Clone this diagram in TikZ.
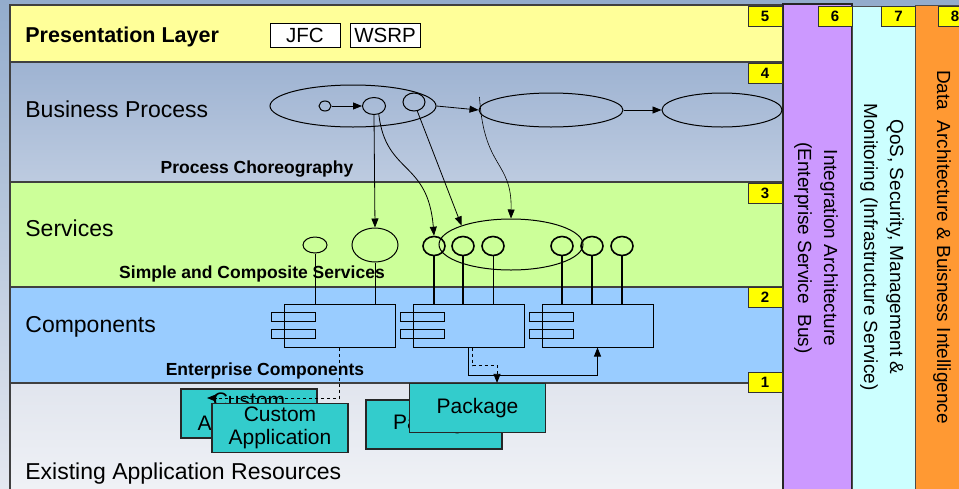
\documentclass[tikz,border=0pt]{standalone}
\usepackage{fontspec}
\setmainfont{Liberation Sans}
\usepackage{xcolor}
\usetikzlibrary{shapes.geometric,arrows.meta,positioning}

\definecolor{bgtop}{HTML}{93ACCC}
\definecolor{bgbot}{HTML}{E4E8F0}
\definecolor{presyel}{HTML}{FFFF99}
\definecolor{bptop}{HTML}{9EB3D2}
\definecolor{bpbot}{HTML}{BDCBE0}
\definecolor{svcgreen}{HTML}{CCFF99}
\definecolor{compblue}{HTML}{99CCFF}
\definecolor{restop}{HTML}{E1E5EE}
\definecolor{resbot}{HTML}{F0F2F6}
\definecolor{intpurple}{HTML}{CC99FF}
\definecolor{qoscyan}{HTML}{CCFFFF}
\definecolor{dataorange}{HTML}{FF9933}
\definecolor{tagyel}{HTML}{FFFF00}
\definecolor{resteal}{HTML}{33CCCC}

\tikzset{
  layerline/.style={draw=black!75, line width=1.2pt},
  tagbox/.style={draw=black!80, fill=tagyel, line width=0.8pt, minimum width=34pt, minimum height=20pt, inner sep=0pt, font=\bfseries\fontsize{15}{15}\selectfont},
  lyrlabel/.style={anchor=base west, inner sep=0pt, font=\fontsize{23}{26}\selectfont},
  subhead/.style={anchor=base, inner sep=0pt, font=\bfseries\fontsize{17.5}{20}\selectfont},
  bandtext/.style={rotate=-90, align=center, font=\fontsize{19}{26}\selectfont},
  bpnode/.style={draw, ellipse, inner sep=0pt, line width=1pt},
  svc/.style={draw, ellipse, inner sep=0pt, minimum width=22pt, minimum height=19pt, line width=1.6pt},
  compbox/.style={draw, fill=compblue, line width=1pt, minimum width=111pt, minimum height=43pt, inner sep=0pt},
  resbox/.style={draw=black!85, fill=resteal, line width=1.2pt, minimum width=136pt, minimum height=49pt, align=center, font=\fontsize{21}{23}\selectfont},
  tagword/.style={draw, fill=white, line width=0.8pt, minimum width=70pt, minimum height=24pt, inner sep=0pt, font=\fontsize{20.5}{22}\selectfont}
}

\begin{document}
\begin{tikzpicture}[x=1pt,y=-1pt,>={Triangle[length=9pt,width=7pt]},line width=0.8pt]
  \def\bandL{10};
  \def\bandR{783};
  \useasboundingbox (0,0) rectangle (959,488);
  \shade[top color=bgtop,bottom color=bgbot] (0,0) rectangle (959,488); %background%

  %layers%
  \fill[presyel] (\bandL,5) rectangle (\bandR,62);
  \shade[top color=bptop,bottom color=bpbot] (\bandL,62) rectangle (\bandR,182);
  \fill[svcgreen] (\bandL,182) rectangle (\bandR,287);
  \fill[compblue] (\bandL,287) rectangle (\bandR,383);
  \shade[top color=restop,bottom color=resbot] (\bandL,383) rectangle (\bandR,495);
  \draw[layerline] (\bandL,495) -- (\bandL,5) -- (\bandR,5);
  \draw[layerline, line width=1.8pt] (\bandL,62) -- (\bandR,62);
  \foreach \y in {182,287,383}
    \draw[layerline] (\bandL,\y) -- (\bandR,\y);

  %vertical bands%
  \filldraw[fill=intpurple, draw=black!85, line width=1.6pt] (783,4) rectangle (852,495);
  \filldraw[fill=qoscyan, draw=black!70, line width=1pt] (852,6) rectangle (915,495);
  \filldraw[fill=dataorange, draw=black!70, line width=1pt] (915,5) rectangle (975,495);

  \node[bandtext] (intarch) at (816,248) {Integration Architecture\\(Enterprise Service\ \ Bus)};
  \node[bandtext] (qosmon) at (882,247) {QoS, Security, Management \&\\Monitoring (Infrastructure Service)};
  \node[bandtext] (databi) at (942,247) {Data\ \ Architecture \& Buisness Intelligence};

  %number tags%
  \node[tagbox] (t5) at (765,16) {5};
  \node[tagbox] (t4) at (765,73) {4};
  \node[tagbox] (t3) at (765,193) {3};
  \node[tagbox] (t2) at (765,297) {2};
  \node[tagbox] (t1) at (765,382) {1};
  \node[tagbox] (t6) at (835,16) {6};
  \node[tagbox] (t7) at (898.5,16.5) {7};
  \node[tagbox] (t8) at (955,16) {8};

  %layer labels%
  \node[lyrlabel, font=\bfseries\fontsize{21.5}{24}\selectfont] (prl) at (25,42.5) {Presentation Layer};
  \node[tagword] (jfc) at (305,35) {JFC};
  \node[tagword] (wsrp) at (385,35) {WSRP};
  \node[lyrlabel] (bpl) at (25,117) {Business Process};
  \node[lyrlabel] (svl) at (25,236) {Services};
  \node[lyrlabel] (cpl) at (25,332) {Components};
  \node[lyrlabel] (exl) at (25,479) {Existing Application Resources};
  \node[subhead] (choreo) at (257,173.5) {Process Choreography};
  \node[subhead] (simcomp) at (252,278.5) {Simple and Composite Services};
  \node[subhead] (entcomp) at (265,375.5) {Enterprise Components};

  %business process%
  \node[bpnode, minimum width=166pt, minimum height=42pt] (bp1) at (353,106) {};
  \node[bpnode, minimum width=144pt, minimum height=34pt] (bp2) at (551,110) {};
  \node[bpnode, minimum width=120pt, minimum height=34pt] (bp3) at (722,110) {};
  \node[bpnode, minimum width=12pt, minimum height=10pt] (p0) at (325,106) {};
  \node[bpnode, minimum width=23pt, minimum height=17pt] (p1) at (374,106) {};
  \node[bpnode, minimum width=22pt, minimum height=18pt] (p2) at (414,102) {};
  \draw[->] (p0) -- (p1);
  \draw[->] (bp1.east) -- (bp2.west);
  \draw[->] (bp2.east) -- (bp3.west);

  %services%
  \node[bpnode, minimum width=24pt, minimum height=16pt] (sa) at (315,245) {};
  \node[bpnode, minimum width=46pt, minimum height=34pt] (sb) at (375,245) {};
  \node[bpnode, minimum width=144pt, minimum height=51pt] (se) at (511,244.5) {};
  \foreach \n/\x in {s1/434,s2/463,s3/493,s4/562,s5/592,s6/622}
    \node[svc] (\n) at (\x,246) {};

  \draw[->] (p1.south) -- (sb.north);
  \draw[->] (p1.-60) .. controls (386,175) and (428,160) .. (s1.north);
  \draw[->] (p2.-70) -- (se.159);
  \draw[->, line width=0.6pt] ([shift={(1,-13)}]bp2.west) .. controls (484,170) and (512,160) .. (se.north);

  %components%
  \node[compbox] (cA) at (339.5,325.5) {};
  \node[compbox] (cB) at (468.5,325.5) {};
  \node[compbox] (cC) at (597.5,325.5) {};
  \foreach \c in {cA,cB,cC} {
    \draw[line width=1pt] ([shift={(-12,-13.5)}]\c.west) rectangle ([shift={(32,-4.5)}]\c.west);
    \draw[line width=1pt] ([shift={(-12,3.5)}]\c.west) rectangle ([shift={(32,12.5)}]\c.west);
  }
  \foreach \n/\c in {sa/cA,sb/cA,s3/cB}
    \draw[line width=1pt] (\n.south) -- (\n.south |- \c.north);
  \foreach \n/\c in {s1/cB,s2/cB}
    \draw[line width=1.6pt] (\n.south) -- (\n.south |- \c.north);
  \foreach \n/\c in {s4/cC,s5/cC,s6/cC}
    \draw[line width=1.2pt] (\n.south) -- (\n.south |- \c.north);

  %existing resources%
  \node[resbox] (ca1) at (249,413.5) {Custom\\Application};
  \coordinate (ctip) at (207,398);
  \draw[dashed, ->] (cA.south) |- (ctip);
  \node[resbox] (ca2) at (280,428) {Custom\\Application};
  \node[resbox] (pk1) at (434,424.5) {Package};
  \node[resbox] (pk2) at (477.5,408) {Package};

  \draw[->] (cB.south) -- ++(0,28) -| (cC.south);
  \draw[dashed, ->] ([xshift=4]cB.south) -- ++(0,18) -| ([xshift=19.5]pk2.north);
\end{tikzpicture}
\end{document}
